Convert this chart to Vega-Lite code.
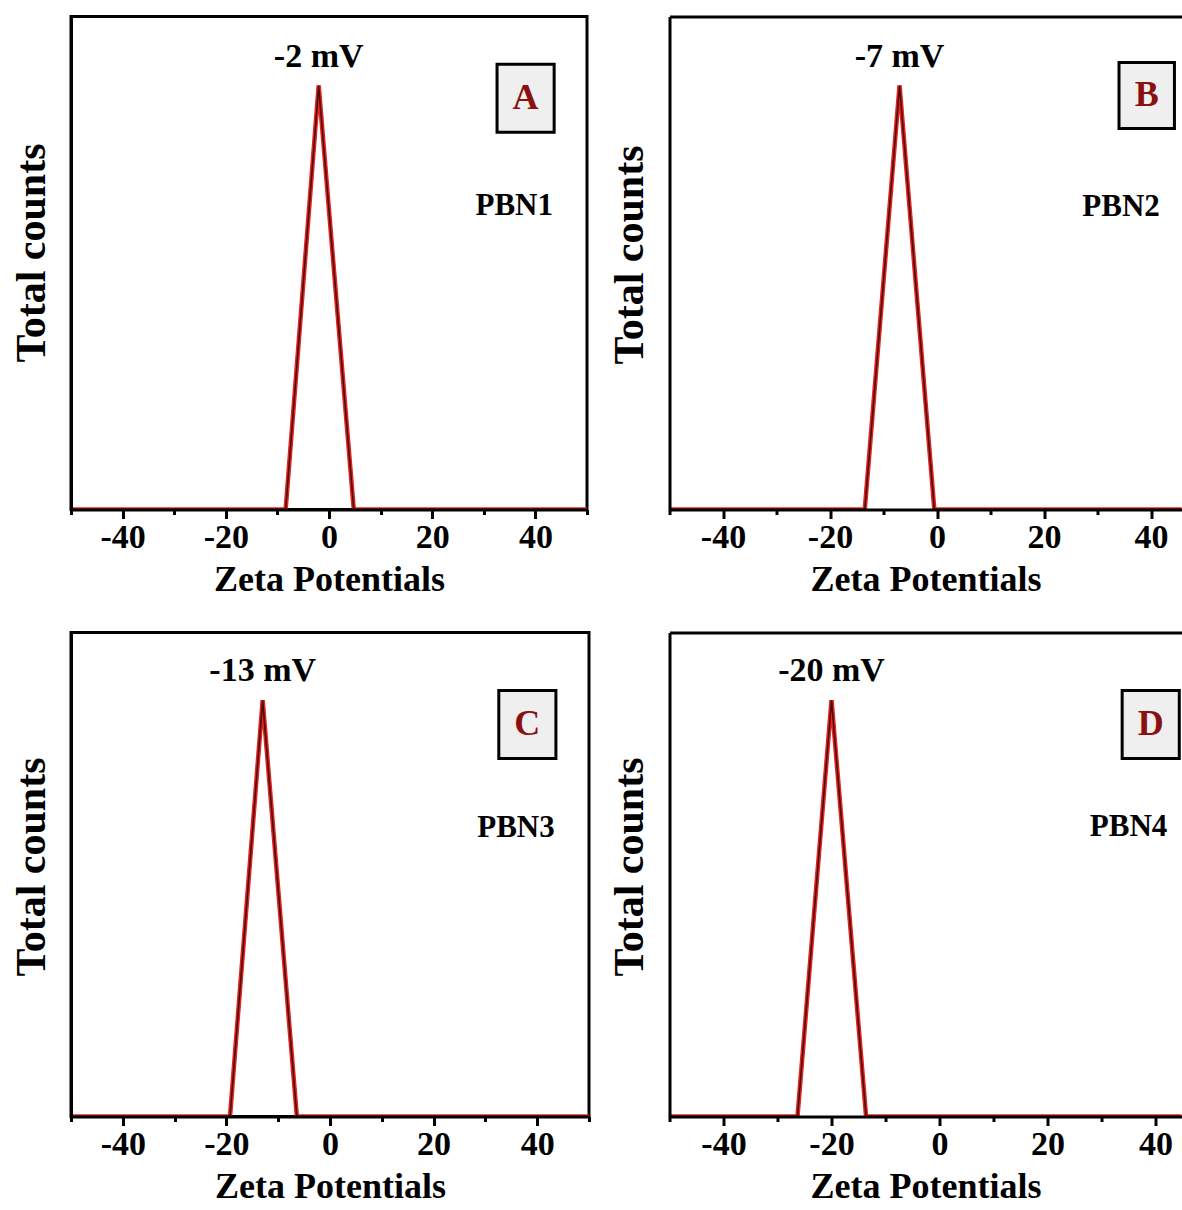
{
  "$schema": "https://vega.github.io/schema/vega-lite/v6.json",
  "padding": {"left": 8, "top": 14.5, "right": 0, "bottom": 0},
  "background": "#ffffff",
  "config": {
    "view": {"stroke": "#000000", "strokeWidth": 3},
    "font": "Liberation Serif"
  },
  "datasets": {
    "curves": [
      {"panel": "A", "zeta": -50, "counts": 0},
      {"panel": "A", "zeta": -8.4, "counts": 0},
      {"panel": "A", "zeta": -2, "counts": 86},
      {"panel": "A", "zeta": 4.8, "counts": 0},
      {"panel": "A", "zeta": 50, "counts": 0},
      {"panel": "B", "zeta": -50, "counts": 0},
      {"panel": "B", "zeta": -13.5, "counts": 0},
      {"panel": "B", "zeta": -7, "counts": 86},
      {"panel": "B", "zeta": -0.5, "counts": 0},
      {"panel": "B", "zeta": 50, "counts": 0},
      {"panel": "C", "zeta": -50, "counts": 0},
      {"panel": "C", "zeta": -19.3, "counts": 0},
      {"panel": "C", "zeta": -13, "counts": 86},
      {"panel": "C", "zeta": -6.4, "counts": 0},
      {"panel": "C", "zeta": 50, "counts": 0},
      {"panel": "D", "zeta": -50, "counts": 0},
      {"panel": "D", "zeta": -26.3, "counts": 0},
      {"panel": "D", "zeta": -20, "counts": 86},
      {"panel": "D", "zeta": -13.6, "counts": 0},
      {"panel": "D", "zeta": 50, "counts": 0}
    ],
    "notes": [
      {"panel": "A", "zeta": -2, "counts": 86, "peak_label": "-2 mV", "letter": "A", "sample": "PBN1", "box_x": 38.1, "box_y": 83.4, "sample_x": 35.9, "sample_y": 61.5},
      {"panel": "B", "zeta": -7, "counts": 86, "peak_label": "-7 mV", "letter": "B", "sample": "PBN2", "box_x": 39.2, "box_y": 84, "sample_x": 34.4, "sample_y": 61.4},
      {"panel": "C", "zeta": -13, "counts": 86, "peak_label": "-13 mV", "letter": "C", "sample": "PBN3", "box_x": 38.1, "box_y": 81, "sample_x": 35.9, "sample_y": 59.7},
      {"panel": "D", "zeta": -20, "counts": 86, "peak_label": "-20 mV", "letter": "D", "sample": "PBN4", "box_x": 39.1, "box_y": 81, "sample_x": 35, "sample_y": 59.9}
    ]
  },
  "spacing": 31,
  "vconcat": [
    {
      "spacing": 18.5,
      "hconcat": [
        {
          "width": 516,
          "height": 493,
          "layer": [
            {
              "data": {"name": "curves"},
              "transform": [{"filter": "datum.panel === 'A'"}],
              "mark": {"type": "line", "color": "#e3241f", "strokeWidth": 4.5, "clip": true},
              "encoding": {
                "x": {"field": "zeta", "type": "quantitative", "title": "Zeta Potentials", "scale": {"domain": [-50, 50], "nice": false, "zero": false},
                  "axis": {"values": [-50, -40, -30, -20, -10, 0, 10, 20, 30, 40, 50], "tickSize": {"condition": {"test": "datum.value % 20 === 0", "value": 9}, "value": 5}, "tickWidth": 3, "tickColor": "#000000", "domainColor": "#000000", "domainWidth": 3, "labelExpr": "datum.value % 20 === 0 ? '' + datum.value : ''", "labelFont": "Liberation Serif", "labelFontWeight": "bold", "labelFontSize": 34, "labelColor": "#000000", "labelPadding": 2, "labelOverlap": false, "labelFlush": false, "titleFont": "Liberation Serif", "titleFontSize": 36, "titleFontWeight": "bold", "titleColor": "#000000", "titlePadding": 8, "grid": false, "zindex": 1}},
                "y": {"field": "counts", "type": "quantitative", "title": "Total counts", "scale": {"domain": [0, 100], "nice": false},
                  "axis": {"ticks": false, "labels": false, "grid": false, "domain": true, "domainColor": "#000000", "domainWidth": 3, "titleFont": "Liberation Serif", "titleFontSize": 42, "titleFontWeight": "bold", "titleColor": "#000000", "titlePadding": 18, "titleY": 236, "zindex": 1}}
              }
            },
            {
              "data": {"name": "curves"},
              "transform": [{"filter": "datum.panel === 'A'"}],
              "mark": {"type": "line", "color": "#4a0d0d", "strokeWidth": 1.6, "clip": true},
              "encoding": {
                "x": {"field": "zeta", "type": "quantitative", "title": "Zeta Potentials"},
                "y": {"field": "counts", "type": "quantitative", "title": "Total counts"}
              }
            },
            {
              "data": {"name": "notes"},
              "transform": [{"filter": "datum.panel === 'A'"}],
              "mark": {"type": "text", "font": "Liberation Serif", "fontWeight": "bold", "fontSize": 34, "color": "#000000", "align": "center", "baseline": "alphabetic", "dy": -19},
              "encoding": {
                "x": {"field": "zeta", "type": "quantitative", "title": "Zeta Potentials"},
                "y": {"field": "counts", "type": "quantitative", "title": "Total counts"},
                "text": {"field": "peak_label"}
              }
            },
            {
              "data": {"name": "notes"},
              "transform": [{"filter": "datum.panel === 'A'"}],
              "mark": {"type": "point", "shape": "M-0.84,-1H0.84V1H-0.84Z", "size": 4624, "filled": true, "fill": "#efefef", "stroke": "#000000", "strokeWidth": 3, "opacity": 1},
              "encoding": {
                "x": {"field": "box_x", "type": "quantitative", "title": "Zeta Potentials"},
                "y": {"field": "box_y", "type": "quantitative", "title": "Total counts"}
              }
            },
            {
              "data": {"name": "notes"},
              "transform": [{"filter": "datum.panel === 'A'"}],
              "mark": {"type": "text", "font": "Liberation Serif", "fontWeight": "bold", "fontSize": 36, "color": "#8b1111", "align": "center", "baseline": "middle"},
              "encoding": {
                "x": {"field": "box_x", "type": "quantitative", "title": "Zeta Potentials"},
                "y": {"field": "box_y", "type": "quantitative", "title": "Total counts"},
                "text": {"field": "letter"}
              }
            },
            {
              "data": {"name": "notes"},
              "transform": [{"filter": "datum.panel === 'A'"}],
              "mark": {"type": "text", "font": "Liberation Serif", "fontWeight": "bold", "fontSize": 31, "color": "#000000", "align": "center", "baseline": "middle"},
              "encoding": {
                "x": {"field": "sample_x", "type": "quantitative", "title": "Zeta Potentials"},
                "y": {"field": "sample_y", "type": "quantitative", "title": "Total counts"},
                "text": {"field": "sample"}
              }
            }
          ]
        },
        {
          "width": 512,
          "height": 493,
          "view": {"stroke": null},
          "resolve": {"axis": {"x": "independent"}},
          "layer": [
            {
              "data": {"name": "curves"},
              "transform": [{"filter": "datum.panel === 'B'"}],
              "mark": {"type": "line", "color": "#e3241f", "strokeWidth": 4.5, "clip": true},
              "encoding": {
                "x": {"field": "zeta", "type": "quantitative", "title": "Zeta Potentials", "scale": {"domain": [-50, 45.7], "nice": false, "zero": false},
                  "axis": {"values": [-50, -40, -30, -20, -10, 0, 10, 20, 30, 40], "tickSize": {"condition": {"test": "datum.value % 20 === 0", "value": 9}, "value": 5}, "tickWidth": 3, "tickColor": "#000000", "domainColor": "#000000", "domainWidth": 3, "labelExpr": "datum.value % 20 === 0 ? '' + datum.value : ''", "labelFont": "Liberation Serif", "labelFontWeight": "bold", "labelFontSize": 34, "labelColor": "#000000", "labelPadding": 2, "labelOverlap": false, "labelFlush": false, "titleFont": "Liberation Serif", "titleFontSize": 36, "titleFontWeight": "bold", "titleColor": "#000000", "titlePadding": 8, "grid": false, "zindex": 1}},
                "y": {"field": "counts", "type": "quantitative", "title": "Total counts", "scale": {"domain": [0, 100], "nice": false},
                  "axis": {"ticks": false, "labels": false, "grid": false, "domain": true, "domainColor": "#000000", "domainWidth": 3, "titleFont": "Liberation Serif", "titleFontSize": 42, "titleFontWeight": "bold", "titleColor": "#000000", "titlePadding": 18, "titleY": 238, "zindex": 1}}
              }
            },
            {
              "data": {"name": "curves"},
              "transform": [{"filter": "datum.panel === 'B'"}],
              "mark": {"type": "line", "color": "#4a0d0d", "strokeWidth": 1.6, "clip": true},
              "encoding": {
                "x": {"field": "zeta", "type": "quantitative",
                  "axis": {"orient": "top", "domain": true, "domainColor": "#000000", "domainWidth": 3, "ticks": false, "labels": false, "grid": false, "title": null, "zindex": 1}},
                "y": {"field": "counts", "type": "quantitative", "title": "Total counts"}
              }
            },
            {
              "data": {"name": "notes"},
              "transform": [{"filter": "datum.panel === 'B'"}],
              "mark": {"type": "text", "font": "Liberation Serif", "fontWeight": "bold", "fontSize": 34, "color": "#000000", "align": "center", "baseline": "alphabetic", "dy": -19},
              "encoding": {
                "x": {"field": "zeta", "type": "quantitative", "axis": null},
                "y": {"field": "counts", "type": "quantitative", "title": "Total counts"},
                "text": {"field": "peak_label"}
              }
            },
            {
              "data": {"name": "notes"},
              "transform": [{"filter": "datum.panel === 'B'"}],
              "mark": {"type": "point", "shape": "M-0.84,-1H0.84V1H-0.84Z", "size": 4356, "filled": true, "fill": "#efefef", "stroke": "#000000", "strokeWidth": 3, "opacity": 1},
              "encoding": {
                "x": {"field": "box_x", "type": "quantitative", "axis": null},
                "y": {"field": "box_y", "type": "quantitative", "title": "Total counts"}
              }
            },
            {
              "data": {"name": "notes"},
              "transform": [{"filter": "datum.panel === 'B'"}],
              "mark": {"type": "text", "font": "Liberation Serif", "fontWeight": "bold", "fontSize": 36, "color": "#8b1111", "align": "center", "baseline": "middle"},
              "encoding": {
                "x": {"field": "box_x", "type": "quantitative", "axis": null},
                "y": {"field": "box_y", "type": "quantitative", "title": "Total counts"},
                "text": {"field": "letter"}
              }
            },
            {
              "data": {"name": "notes"},
              "transform": [{"filter": "datum.panel === 'B'"}],
              "mark": {"type": "text", "font": "Liberation Serif", "fontWeight": "bold", "fontSize": 31, "color": "#000000", "align": "center", "baseline": "middle"},
              "encoding": {
                "x": {"field": "sample_x", "type": "quantitative", "axis": null},
                "y": {"field": "sample_y", "type": "quantitative", "title": "Total counts"},
                "text": {"field": "sample"}
              }
            }
          ]
        }
      ]
    },
    {
      "spacing": 16.5,
      "hconcat": [
        {
          "width": 518,
          "height": 484,
          "layer": [
            {
              "data": {"name": "curves"},
              "transform": [{"filter": "datum.panel === 'C'"}],
              "mark": {"type": "line", "color": "#e3241f", "strokeWidth": 4.5, "clip": true},
              "encoding": {
                "x": {"field": "zeta", "type": "quantitative", "title": "Zeta Potentials", "scale": {"domain": [-50, 50], "nice": false, "zero": false},
                  "axis": {"values": [-50, -40, -30, -20, -10, 0, 10, 20, 30, 40, 50], "tickSize": {"condition": {"test": "datum.value % 20 === 0", "value": 9}, "value": 5}, "tickWidth": 3, "tickColor": "#000000", "domainColor": "#000000", "domainWidth": 3, "labelExpr": "datum.value % 20 === 0 ? '' + datum.value : ''", "labelFont": "Liberation Serif", "labelFontWeight": "bold", "labelFontSize": 34, "labelColor": "#000000", "labelPadding": 2, "labelOverlap": false, "labelFlush": false, "titleFont": "Liberation Serif", "titleFontSize": 36, "titleFontWeight": "bold", "titleColor": "#000000", "titlePadding": 8, "grid": false, "zindex": 1}},
                "y": {"field": "counts", "type": "quantitative", "title": "Total counts", "scale": {"domain": [0, 100], "nice": false},
                  "axis": {"ticks": false, "labels": false, "grid": false, "domain": true, "domainColor": "#000000", "domainWidth": 3, "titleFont": "Liberation Serif", "titleFontSize": 42, "titleFontWeight": "bold", "titleColor": "#000000", "titlePadding": 18, "titleY": 234, "zindex": 1}}
              }
            },
            {
              "data": {"name": "curves"},
              "transform": [{"filter": "datum.panel === 'C'"}],
              "mark": {"type": "line", "color": "#4a0d0d", "strokeWidth": 1.6, "clip": true},
              "encoding": {
                "x": {"field": "zeta", "type": "quantitative", "title": "Zeta Potentials"},
                "y": {"field": "counts", "type": "quantitative", "title": "Total counts"}
              }
            },
            {
              "data": {"name": "notes"},
              "transform": [{"filter": "datum.panel === 'C'"}],
              "mark": {"type": "text", "font": "Liberation Serif", "fontWeight": "bold", "fontSize": 34, "color": "#000000", "align": "center", "baseline": "alphabetic", "dy": -19},
              "encoding": {
                "x": {"field": "zeta", "type": "quantitative", "title": "Zeta Potentials"},
                "y": {"field": "counts", "type": "quantitative", "title": "Total counts"},
                "text": {"field": "peak_label"}
              }
            },
            {
              "data": {"name": "notes"},
              "transform": [{"filter": "datum.panel === 'C'"}],
              "mark": {"type": "point", "shape": "M-0.84,-1H0.84V1H-0.84Z", "size": 4624, "filled": true, "fill": "#efefef", "stroke": "#000000", "strokeWidth": 3, "opacity": 1},
              "encoding": {
                "x": {"field": "box_x", "type": "quantitative", "title": "Zeta Potentials"},
                "y": {"field": "box_y", "type": "quantitative", "title": "Total counts"}
              }
            },
            {
              "data": {"name": "notes"},
              "transform": [{"filter": "datum.panel === 'C'"}],
              "mark": {"type": "text", "font": "Liberation Serif", "fontWeight": "bold", "fontSize": 36, "color": "#8b1111", "align": "center", "baseline": "middle"},
              "encoding": {
                "x": {"field": "box_x", "type": "quantitative", "title": "Zeta Potentials"},
                "y": {"field": "box_y", "type": "quantitative", "title": "Total counts"},
                "text": {"field": "letter"}
              }
            },
            {
              "data": {"name": "notes"},
              "transform": [{"filter": "datum.panel === 'C'"}],
              "mark": {"type": "text", "font": "Liberation Serif", "fontWeight": "bold", "fontSize": 31, "color": "#000000", "align": "center", "baseline": "middle"},
              "encoding": {
                "x": {"field": "sample_x", "type": "quantitative", "title": "Zeta Potentials"},
                "y": {"field": "sample_y", "type": "quantitative", "title": "Total counts"},
                "text": {"field": "sample"}
              }
            }
          ]
        },
        {
          "width": 512,
          "height": 484,
          "view": {"stroke": null},
          "resolve": {"axis": {"x": "independent"}},
          "layer": [
            {
              "data": {"name": "curves"},
              "transform": [{"filter": "datum.panel === 'D'"}],
              "mark": {"type": "line", "color": "#e3241f", "strokeWidth": 4.5, "clip": true},
              "encoding": {
                "x": {"field": "zeta", "type": "quantitative", "title": "Zeta Potentials", "scale": {"domain": [-50, 44.8], "nice": false, "zero": false},
                  "axis": {"values": [-50, -40, -30, -20, -10, 0, 10, 20, 30, 40], "tickSize": {"condition": {"test": "datum.value % 20 === 0", "value": 9}, "value": 5}, "tickWidth": 3, "tickColor": "#000000", "domainColor": "#000000", "domainWidth": 3, "labelExpr": "datum.value % 20 === 0 ? '' + datum.value : ''", "labelFont": "Liberation Serif", "labelFontWeight": "bold", "labelFontSize": 34, "labelColor": "#000000", "labelPadding": 2, "labelOverlap": false, "labelFlush": false, "titleFont": "Liberation Serif", "titleFontSize": 36, "titleFontWeight": "bold", "titleColor": "#000000", "titlePadding": 8, "grid": false, "zindex": 1}},
                "y": {"field": "counts", "type": "quantitative", "title": "Total counts", "scale": {"domain": [0, 100], "nice": false},
                  "axis": {"ticks": false, "labels": false, "grid": false, "domain": true, "domainColor": "#000000", "domainWidth": 3, "titleFont": "Liberation Serif", "titleFontSize": 42, "titleFontWeight": "bold", "titleColor": "#000000", "titlePadding": 18, "titleY": 234, "zindex": 1}}
              }
            },
            {
              "data": {"name": "curves"},
              "transform": [{"filter": "datum.panel === 'D'"}],
              "mark": {"type": "line", "color": "#4a0d0d", "strokeWidth": 1.6, "clip": true},
              "encoding": {
                "x": {"field": "zeta", "type": "quantitative",
                  "axis": {"orient": "top", "domain": true, "domainColor": "#000000", "domainWidth": 3, "ticks": false, "labels": false, "grid": false, "title": null, "zindex": 1}},
                "y": {"field": "counts", "type": "quantitative", "title": "Total counts"}
              }
            },
            {
              "data": {"name": "notes"},
              "transform": [{"filter": "datum.panel === 'D'"}],
              "mark": {"type": "text", "font": "Liberation Serif", "fontWeight": "bold", "fontSize": 34, "color": "#000000", "align": "center", "baseline": "alphabetic", "dy": -19},
              "encoding": {
                "x": {"field": "zeta", "type": "quantitative", "axis": null},
                "y": {"field": "counts", "type": "quantitative", "title": "Total counts"},
                "text": {"field": "peak_label"}
              }
            },
            {
              "data": {"name": "notes"},
              "transform": [{"filter": "datum.panel === 'D'"}],
              "mark": {"type": "point", "shape": "M-0.84,-1H0.84V1H-0.84Z", "size": 4624, "filled": true, "fill": "#efefef", "stroke": "#000000", "strokeWidth": 3, "opacity": 1},
              "encoding": {
                "x": {"field": "box_x", "type": "quantitative", "axis": null},
                "y": {"field": "box_y", "type": "quantitative", "title": "Total counts"}
              }
            },
            {
              "data": {"name": "notes"},
              "transform": [{"filter": "datum.panel === 'D'"}],
              "mark": {"type": "text", "font": "Liberation Serif", "fontWeight": "bold", "fontSize": 36, "color": "#8b1111", "align": "center", "baseline": "middle"},
              "encoding": {
                "x": {"field": "box_x", "type": "quantitative", "axis": null},
                "y": {"field": "box_y", "type": "quantitative", "title": "Total counts"},
                "text": {"field": "letter"}
              }
            },
            {
              "data": {"name": "notes"},
              "transform": [{"filter": "datum.panel === 'D'"}],
              "mark": {"type": "text", "font": "Liberation Serif", "fontWeight": "bold", "fontSize": 31, "color": "#000000", "align": "center", "baseline": "middle"},
              "encoding": {
                "x": {"field": "sample_x", "type": "quantitative", "axis": null},
                "y": {"field": "sample_y", "type": "quantitative", "title": "Total counts"},
                "text": {"field": "sample"}
              }
            }
          ]
        }
      ]
    }
  ]
}
